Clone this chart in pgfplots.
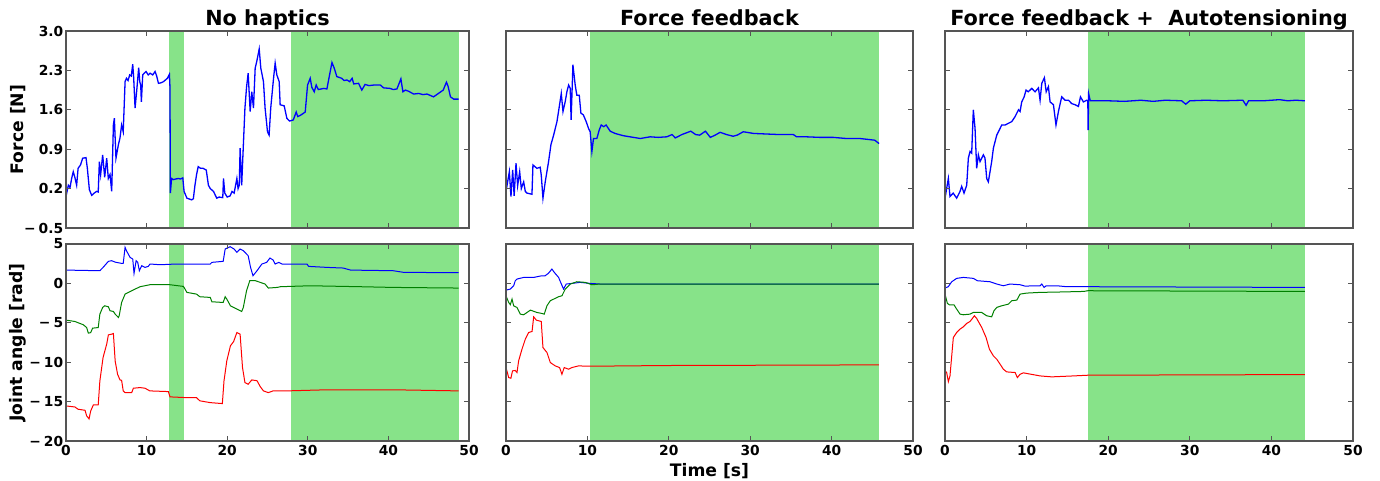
\documentclass[border=0pt]{standalone}
\usepackage{pgfplots}
\pgfplotsset{compat=1.18}
\usepackage{fontspec}
\setmainfont{DejaVu Sans}
\definecolor{shade}{RGB}{135,227,137}
\definecolor{mplgreen}{RGB}{0,128,0}
\definecolor{frame}{RGB}{85,85,85}
\newcommand\tickfont{\bfseries\fontsize{6.9}{7}\selectfont}
\newcommand\titlefont{\bfseries\fontsize{10.4}{12}\selectfont}
\newcommand\labfont{\bfseries\fontsize{8.6}{9}\selectfont}
\newcommand\mn{−\hspace{0.22em}}
\pgfplotsset{
  base/.style={scale only axis, xmin=0, xmax=50, xtick={0,10,20,30,40,50},
    axis line style={draw=frame, line width=0.6pt},
    tick style={draw=frame, line width=0.5pt}, major tick length=2.5pt,
    tick align=inside, xtick pos=both, ytick pos=both,
    ticklabel style={font=\tickfont},
    yticklabel style={inner xsep=1.2pt},
    xticklabel style={inner ysep=2pt},
    axis on top, clip=true,
    every axis title/.style={at={(0.5,1)}, anchor=base, yshift=2.5pt, font=\titlefont},
    every axis y label/.style={at={(axis description cs:-0.119,0.5)}, rotate=90, anchor=center, font=\labfont},
    every axis x label/.style={at={(axis description cs:0.5,0)}, anchor=base, yshift=-17.5pt, font=\labfont},
  },
  toprow/.style={base, ymin=-0.5, ymax=3.0, ytick={-0.5,0.2,0.9,1.6,2.3,3.0},
    height=98.5pt, xticklabels={}},
  botrow/.style={base, ymin=-20, ymax=5, ytick={-20,-15,-10,-5,0,5},
    height=98.5pt, xticklabels={0,10,20,30,40,50}},
  fline/.style={blue, line width=0.65pt},
  jline/.style={line width=0.5pt},
}
\begin{document}
\begin{tikzpicture}
\path[use as bounding box] (0,0) rectangle (690pt,-240.5pt);
% ---------------- top row ----------------
\begin{axis}[toprow, at={(33pt,-114pt)}, anchor=south west, width=201.5pt,
  title={No haptics},
  yticklabels={\mn0.5,0.2,0.9,1.6,2.3,3.0},
  ylabel={Force [N]}]
\addplot[fill=shade, draw=none] coordinates {(12.83,-0.5) (14.61,-0.5) (14.61,3) (12.83,3)};
\addplot[fill=shade, draw=none] coordinates {(27.86,-0.5) (48.76,-0.5) (48.76,3) (27.86,3)};
\addplot[fline] coordinates {(0,0.06)(0.29,0.26)(0.5,0.22)(0.7,0.38)(0.9,0.50)(1.1,0.40)(1.32,0.26)(1.5,0.56)(1.8,0.62)(2.07,0.74)(2.48,0.75)(2.65,0.56)(2.9,0.18)(3.19,0.08)(3.5,0.12)(3.8,0.15)(4.0,0.14)(4.14,0.68)(4.3,0.45)(4.55,0.80)(4.8,0.40)(5.05,0.74)(5.25,0.38)(5.46,0.45)(5.67,0.15)(5.88,1.33)(6.0,1.45)(6.2,0.74)(6.5,0.98)(6.7,1.1)(6.9,1.33)(7.1,1.21)(7.33,2.10)(7.5,2.16)(7.7,2.12)(7.9,2.22)(8.1,2.2)(8.28,2.41)(8.4,2.16)(8.57,1.63)(8.78,1.95)(9.02,2.35)(9.15,2.1)(9.27,2.04)(9.35,1.74)(9.52,2.22)(9.7,2.25)(9.93,2.28)(10.2,2.22)(10.43,2.25)(10.76,2.22)(11.05,2.28)(11.25,2.2)(11.47,2.07)(11.8,2.08)(12.09,2.10)(12.58,2.16)(12.83,2.23)(12.9,2.0)(12.95,0.12)(13.1,0.38)(13.3,0.36)(13.6,0.37)(13.95,0.38)(14.2,0.37)(14.49,0.39)(14.65,0.15)(15.0,0.03)(15.6,0.0)(15.8,0.02)(16.0,0.26)(16.2,0.45)(16.4,0.59)(16.7,0.56)(17.0,0.56)(17.4,0.53)(17.67,0.26)(17.9,0.2)(18.3,0.15)(18.7,0.03)(19.0,0.05)(19.45,0.04)(19.54,0.38)(19.7,0.12)(20.0,0.05)(20.36,0.07)(20.6,0.15)(20.86,0.12)(21.2,0.38)(21.35,0.2)(21.5,0.26)(21.6,0.92)(21.8,0.26)(21.9,0.62)(22.2,1.63)(22.4,2.0)(22.6,2.25)(22.85,1.57)(23.05,1.92)(23.26,1.63)(23.47,2.34)(23.67,2.46)(23.97,2.68)(24.17,2.34)(24.5,2.10)(24.7,1.63)(25.0,1.21)(25.2,1.15)(25.4,1.63)(25.75,2.16)(25.95,2.43)(26.16,2.22)(26.45,2.10)(26.57,1.69)(27.07,1.67)(27.4,1.45)(27.73,1.40)(28.2,1.42)(28.56,1.56)(28.75,1.48)(29.06,1.50)(29.68,1.56)(29.97,2.04)(30.3,2.16)(30.5,2.0)(30.8,1.92)(31.04,2.04)(31.3,1.96)(32.0,1.98)(32.37,1.97)(32.7,2.22)(33.0,2.44)(33.28,2.34)(33.6,2.19)(34.2,2.16)(34.5,2.12)(34.85,2.13)(35.2,2.1)(35.5,2.16)(35.7,2.06)(36.3,2.07)(36.7,1.95)(37.1,2.05)(37.6,2.03)(38.2,2.04)(39.0,2.04)(39.4,1.99)(40.2,1.98)(40.6,1.96)(41.06,1.97)(41.55,2.15)(41.8,1.92)(42.1,1.95)(42.5,1.93)(43.13,1.88)(43.75,1.89)(44.3,1.87)(44.8,1.88)(45.6,1.83)(46.2,1.89)(46.8,1.95)(47.2,2.09)(47.4,2.02)(47.7,1.83)(48.1,1.79)(48.7,1.79)};
\end{axis}
\begin{axis}[toprow, at={(253pt,-114pt)}, anchor=south west, width=203.5pt,
  title={Force feedback}, yticklabels={}]
\addplot[fill=shade, draw=none] coordinates {(10.34,-0.5) (45.83,-0.5) (45.83,3) (10.34,3)};
\addplot[fline] coordinates {(0,0.15)(0.2,0.32)(0.41,0.5)(0.61,0.06)(0.82,0.53)(1.0,0.07)(1.23,0.65)(1.43,0.25)(1.68,0.5)(1.88,0.2)(2.17,0.32)(2.37,0.15)(2.58,0.12)(3.19,0.1)(3.31,0.62)(3.8,0.56)(4.2,0.58)(4.33,0.44)(4.54,0.03)(4.82,0.32)(5.23,0.68)(5.52,0.98)(5.85,1.15)(6.26,1.39)(6.58,1.69)(6.79,1.89)(7.0,1.57)(7.28,1.75)(7.48,1.92)(7.69,2.04)(7.89,1.98)(8.0,1.42)(8.22,2.40)(8.5,2.04)(8.7,1.86)(9.0,1.86)(9.2,1.54)(9.5,1.51)(9.85,1.39)(10.14,1.27)(10.34,1.21)(10.55,0.86)(10.75,1.09)(11.16,1.09)(11.45,1.24)(11.7,1.33)(12.0,1.30)(12.3,1.33)(12.8,1.22)(13.4,1.18)(14.4,1.14)(15.66,1.11)(16.5,1.09)(17.7,1.12)(18.7,1.11)(19.75,1.12)(20.4,1.16)(20.8,1.10)(21.6,1.16)(22.7,1.22)(23.3,1.16)(23.8,1.15)(24.5,1.22)(25.1,1.11)(25.7,1.15)(26.3,1.20)(27.1,1.16)(27.9,1.13)(28.4,1.15)(29.15,1.21)(30.4,1.18)(32.0,1.17)(33.6,1.16)(35.3,1.16)(35.7,1.12)(36.9,1.12)(38.55,1.11)(40.2,1.11)(41.8,1.09)(43.46,1.09)(44.7,1.07)(45.3,1.06)(45.83,1.0)};
\end{axis}
\begin{axis}[toprow, at={(472.5pt,-114pt)}, anchor=south west, width=204pt,
  title={Force feedback +\ \ Autotensioning}, yticklabels={}]
\addplot[fill=shade, draw=none] coordinates {(17.54,-0.5) (44.11,-0.5) (44.11,3) (17.54,3)};
\addplot[fline] coordinates {(0,0.03)(0.2,0.2)(0.41,0.38)(0.61,0.06)(1.0,0.12)(1.43,0.03)(1.84,0.15)(2.04,0.24)(2.33,0.12)(2.66,0.26)(2.86,0.74)(3.07,0.86)(3.27,0.83)(3.47,1.6)(3.68,1.27)(3.88,0.56)(4.09,0.80)(4.29,0.68)(4.7,0.80)(4.9,0.74)(5.11,0.38)(5.31,0.32)(5.72,0.68)(5.93,0.92)(6.34,1.15)(6.55,1.21)(6.95,1.33)(7.36,1.33)(7.77,1.36)(8.18,1.39)(8.59,1.48)(9.0,1.6)(9.2,1.57)(9.4,1.74)(9.7,1.83)(9.93,1.95)(10.2,1.92)(10.63,1.98)(11.04,1.92)(11.45,1.99)(11.65,1.77)(11.86,2.07)(12.18,2.17)(12.4,1.92)(12.67,2.01)(12.88,1.74)(13.29,1.69)(13.6,1.33)(13.9,1.57)(14.3,1.83)(14.72,1.77)(15.13,1.77)(15.53,1.71)(15.94,1.69)(16.35,1.66)(16.6,1.83)(16.96,1.74)(17.37,1.77)(17.50,1.76)(17.54,1.24)(17.6,1.89)(17.8,1.76)(20,1.76)(22,1.75)(24,1.77)(25.5,1.75)(27,1.77)(29.0,1.76)(29.5,1.70)(30,1.76)(32,1.77)(34,1.76)(36.5,1.77)(36.9,1.68)(37.2,1.76)(39,1.76)(41,1.78)(42,1.76)(43,1.77)(44.1,1.76)};
\end{axis}
% ---------------- bottom row ----------------
\begin{axis}[botrow, at={(33pt,-220.5pt)}, anchor=south west, width=201.5pt,
  yticklabels={\mn20,\mn15,\mn10,\mn5,0,5},
  ylabel={Joint angle [rad]}]
\addplot[fill=shade, draw=none] coordinates {(12.83,-20) (14.61,-20) (14.61,5) (12.83,5)};
\addplot[fill=shade, draw=none] coordinates {(27.86,-20) (48.76,-20) (48.76,5) (27.86,5)};
\addplot[jline, blue] coordinates {(0,1.69)(4.2,1.61)(4.6,2.03)(5.26,2.8)(5.67,2.88)(6.1,2.7)(6.9,2.54)(7.1,2.54)(7.33,4.58)(7.5,4.15)(7.95,3.3)(8.28,3.1)(8.44,1.27)(8.7,2.88)(8.9,2.67)(9.1,1.61)(9.4,2.25)(9.8,2.03)(10.2,2.16)(10.43,2.46)(11.67,2.37)(13.7,2.46)(15.8,2.46)(17.9,2.46)(18.1,2.67)(19.5,2.8)(19.75,4.36)(20.36,4.66)(20.86,4.36)(21.2,3.94)(21.6,4.36)(22.0,4.15)(22.6,3.52)(22.9,2.03)(23.2,0.97)(23.7,1.61)(24.3,2.46)(24.9,2.67)(25.3,3.22)(25.7,2.97)(25.95,2.46)(26.4,2.67)(26.8,2.46)(29.9,2.46)(30.1,2.16)(32.4,2.03)(34.4,1.95)(35.3,1.69)(40.6,1.61)(41.9,1.40)(48.7,1.36)};
\addplot[jline, mplgreen] coordinates {(0,-4.66)(1.1,-4.83)(2.15,-5.25)(2.56,-5.6)(2.77,-6.31)(3.06,-6.25)(3.3,-5.68)(4.0,-5.6)(4.2,-3.9)(4.55,-3.05)(4.8,-2.84)(5.26,-2.97)(5.46,-3.47)(5.88,-3.56)(6.1,-3.9)(6.5,-4.32)(6.6,-4.1)(6.9,-2.42)(7.33,-1.36)(8.15,-0.93)(9.19,-0.42)(10.4,-0.17)(12.9,-0.17)(14.57,-0.38)(15.0,-1.14)(16.2,-1.36)(16.6,-1.69)(17.9,-1.78)(18.1,-2.33)(19.5,-2.42)(19.75,-1.69)(19.95,-1.99)(20.4,-2.84)(21.2,-3.26)(21.8,-3.56)(22.0,-3.05)(22.4,-0.93)(22.8,0.34)(23.5,0.34)(24.1,0.13)(24.7,-0.08)(25.1,-0.59)(26.2,-0.51)(26.6,-0.42)(30.3,-0.3)(36.5,-0.42)(40.6,-0.51)(48.7,-0.59)};
\addplot[jline, red] coordinates {(0,-15.55)(1.1,-15.68)(1.5,-15.97)(2.36,-16.1)(2.56,-16.8)(2.86,-17.2)(3.06,-16.2)(3.4,-15.4)(4.0,-15.4)(4.2,-12.4)(4.6,-9.4)(5.05,-7.7)(5.26,-6.53)(5.67,-6.44)(5.88,-6.36)(6.1,-9.85)(6.4,-11.53)(6.7,-12.25)(6.9,-12.3)(7.1,-13.64)(7.33,-13.86)(8.15,-13.86)(8.36,-13.3)(9.19,-13.22)(9.8,-13.3)(10.4,-13.64)(12.7,-13.73)(12.9,-14.4)(15.0,-14.5)(16.2,-14.5)(16.6,-14.9)(17.9,-15.13)(19.4,-15.25)(19.6,-12.4)(19.95,-9.83)(20.4,-7.92)(20.8,-7.37)(21.2,-6.23)(21.6,-6.44)(21.9,-10.68)(22.2,-12.58)(22.6,-12.8)(23.05,-12.25)(23.7,-12.35)(24.1,-13.1)(24.5,-13.64)(25.1,-13.86)(25.7,-13.64)(27.4,-13.64)(32.4,-13.5)(40.6,-13.5)(48.7,-13.64)};
\end{axis}
\begin{axis}[botrow, at={(253pt,-220.5pt)}, anchor=south west, width=203.5pt,
  yticklabels={}, xlabel={Time [s]}]
\addplot[fill=shade, draw=none] coordinates {(10.34,-20) (45.83,-20) (45.83,5) (10.34,5)};
\addplot[jline, red] coordinates {(0,-10.68)(0.33,-11.95)(0.6,-12.03)(0.8,-11.1)(1.14,-11.05)(1.35,-11.31)(1.55,-9.83)(1.96,-8.35)(2.37,-7.08)(2.78,-6.23)(3.2,-6.1)(3.4,-4.24)(3.72,-4.66)(4.33,-4.83)(4.54,-8.14)(5.03,-8.77)(5.44,-10.04)(6.05,-10.47)(6.58,-10.68)(6.87,-11.53)(7.15,-10.68)(7.69,-10.89)(8.1,-10.68)(8.9,-10.47)(10.34,-10.51)(19.75,-10.42)(45.8,-10.34)};
\addplot[jline, blue] coordinates {(0,-0.85)(0.53,-0.72)(0.94,-0.3)(1.14,0.34)(1.35,0.55)(2.17,0.76)(3.4,0.76)(4.4,0.97)(4.8,0.97)(5.2,1.27)(5.64,1.82)(5.93,1.4)(6.46,0.76)(6.8,-0.08)(7.07,-0.72)(7.4,-0.08)(8.1,0.0)(9.1,0.13)(10.34,0.0)(11.57,-0.08)(45.8,-0.08)};
\addplot[jline, mplgreen] coordinates {(0,-1.57)(0.33,-2.42)(0.53,-2.7)(0.74,-1.99)(0.94,-2.84)(1.35,-3.05)(1.76,-3.9)(2.17,-3.98)(3.0,-3.39)(3.8,-3.69)(4.4,-3.81)(4.7,-3.9)(5.03,-2.84)(5.44,-2.2)(6.46,-1.69)(6.87,-1.57)(7.28,-0.72)(7.9,-0.08)(8.7,0.21)(9.73,0.13)(10.55,-0.17)(11.57,-0.08)(45.8,-0.08)};
\end{axis}
\begin{axis}[botrow, at={(472.5pt,-220.5pt)}, anchor=south west, width=204pt,
  yticklabels={}]
\addplot[fill=shade, draw=none] coordinates {(17.54,-20) (44.11,-20) (44.11,5) (17.54,5)};
\addplot[jline, blue] coordinates {(0,-0.59)(0.4,-0.42)(0.82,0.21)(1.43,0.64)(2.25,0.76)(3.07,0.68)(3.47,0.64)(3.97,0.34)(5.52,0.21)(6.34,-0.08)(7.15,-0.3)(7.97,-0.08)(9.2,-0.17)(9.8,-0.34)(11.65,-0.3)(11.86,-0.08)(12.14,-0.51)(12.4,-0.3)(13.7,-0.3)(14.92,-0.42)(17.54,-0.42)(44.1,-0.51)};
\addplot[jline, mplgreen] coordinates {(0,-1.36)(0.29,-2.54)(0.53,-2.71)(1.1,-2.71)(1.35,-3.14)(1.84,-3.9)(2.25,-3.98)(3.07,-3.9)(3.47,-3.69)(4.5,-3.69)(5.11,-4.11)(5.72,-4.24)(6.0,-3.47)(6.34,-3.05)(6.95,-2.84)(7.77,-2.63)(8.18,-2.2)(8.8,-2.12)(9.2,-1.36)(10.0,-1.23)(11.65,-1.14)(13.7,-1.1)(17.0,-1.02)(17.5,-0.93)(44.1,-1.02)};
\addplot[jline, red] coordinates {(0,-11.1)(0.2,-11.3)(0.41,-12.46)(0.61,-11.74)(1.02,-6.86)(1.43,-6.23)(1.84,-5.8)(2.25,-5.51)(2.66,-5.08)(3.07,-4.83)(3.6,-4.11)(3.88,-4.45)(4.5,-5.59)(5.03,-6.86)(5.44,-8.35)(5.93,-9.2)(6.34,-9.62)(6.75,-10.25)(7.15,-10.89)(7.56,-11.23)(8.59,-11.31)(8.87,-11.95)(9.2,-11.53)(9.6,-11.35)(11.65,-11.74)(13.08,-11.86)(15.74,-11.74)(17.54,-11.65)(44.1,-11.57)};
\end{axis}
\end{tikzpicture}
\end{document}
